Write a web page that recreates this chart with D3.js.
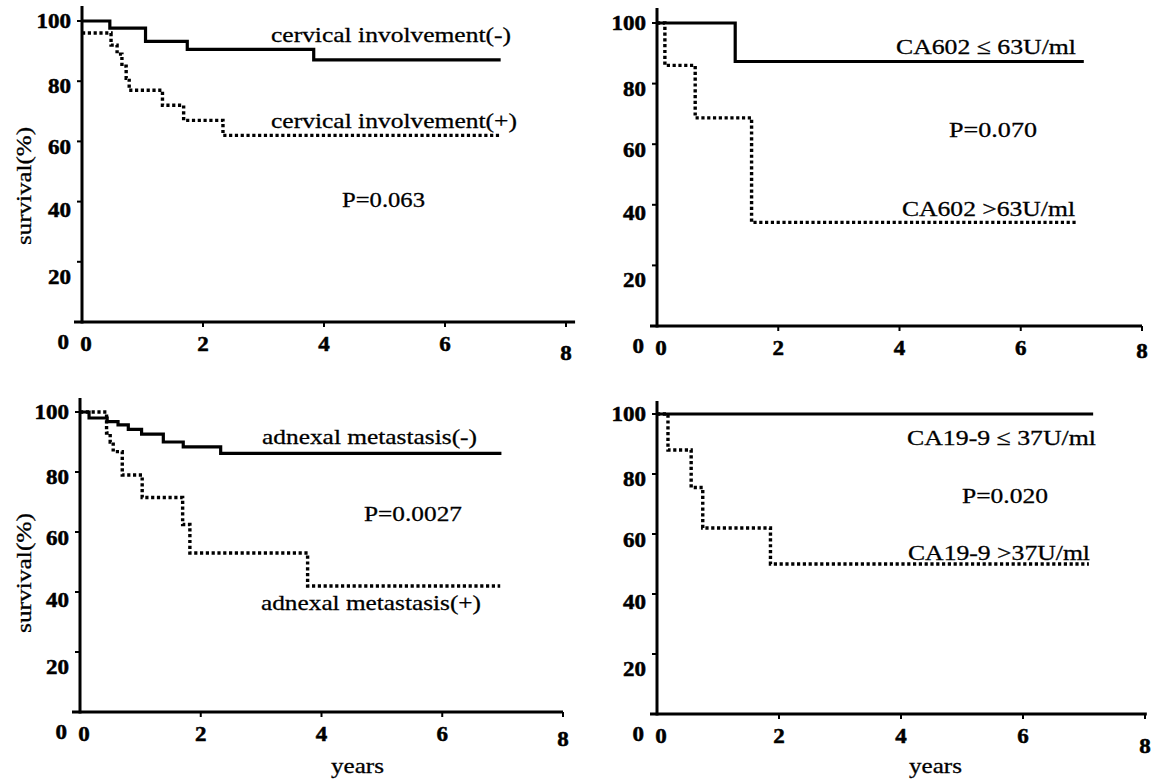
<!DOCTYPE html>
<html><head><meta charset="utf-8">
<script src="https://cdn.jsdelivr.net/npm/d3@7"></script>
<style>body{margin:0;background:#fff}</style>
</head><body>
<svg id="c" width="1153" height="782"></svg>
<script>
// ---------- data ----------
const xTickValues = [0, 2, 4, 6, 8];
const xTickLabels = ["0", "2", "4", "6", "8"];
const yTickValues = [0, 20, 40, 60, 80, 100];
const yTickLabels = ["0", "20", "40", "60", "80", "100"];

// panel A: cervical involvement
const cervNegTime = [0, 0.46, 1.05, 1.74, 3.83];
const cervNegSurv = [100, 97.6, 93.2, 90.6, 87.1];
const cervNegEnd = 6.92;
const cervPosTime = [0, 0.48, 0.58, 0.66, 0.73, 0.78, 1.33, 1.68, 2.33];
const cervPosSurv = [96, 92, 89, 85, 81, 77, 72, 67, 62];
const cervPosEnd = 6.92;
const cervLabels = ["cervical involvement(-)", "cervical involvement(+)", "P=0.063"];

// panel B: CA602
const caLowTime = [0, 1.29];
const caLowSurv = [100, 87.3];
const caLowEnd = 7.04;
const caHighTime = [0, 0.13, 0.63, 1.56];
const caHighSurv = [100, 86, 68.7, 34.2];
const caHighEnd = 6.94;
const caLabels = ["CA602 \u2264 63U/ml", "P=0.070", "CA602 >63U/ml"];

// panel C: adnexal metastasis
const adnNegTime = [0, 0.15, 0.45, 0.63, 0.8, 1.02, 1.38, 1.71, 2.33];
const adnNegSurv = [100, 98, 96.8, 95.7, 94.2, 92.6, 90, 88.4, 86.2];
const adnNegEnd = 6.98;
const adnPosTime = [0, 0.44, 0.5, 0.55, 0.7, 1.03, 1.7, 1.82, 3.77];
const adnPosSurv = [100, 93, 90, 86.8, 79, 71.5, 62.5, 53, 42];
const adnPosEnd = 6.96;
const adnLabels = ["adnexal metastasis(-)", "P=0.0027", "adnexal metastasis(+)"];

// panel D: CA19-9
const c199LowTime = [0];
const c199LowSurv = [100];
const c199LowEnd = 7.15;
const c199HighTime = [0, 0.18, 0.56, 0.75, 1.86];
const c199HighSurv = [100, 88, 75.5, 62, 50];
const c199HighEnd = 7.08;
const c199Labels = ["CA19-9 \u2264 37U/ml", "P=0.020", "CA19-9 >37U/ml"];

const yAxisTitle = "survival(%)";
const xAxisTitle = "years";

// ---------- layout ----------
const yLabelShift = [20, 15, 8, 6, 5, 0];
const panels = [
  {x0: 82, x8: 566, y0: 322, y100: 21, top: 6, axL: 74, axR: 8.15, x8dy: 9,
   series: [[cervNegTime, cervNegSurv, cervNegEnd, false], [cervPosTime, cervPosSurv, cervPosEnd, true]],
   labels: cervLabels, lpos: [[271, 42, 240], [271, 128, 246], [342, 207, 83]],
   ytitle: [31, 186, 118], xtitle: null},
  {x0: 657, x8: 1142, y0: 326, y100: 23, top: 8, axL: 650, axR: 8.0, x8dy: 3,
   series: [[caLowTime, caLowSurv, caLowEnd, false], [caHighTime, caHighSurv, caHighEnd, true]],
   labels: caLabels, lpos: [[896, 54, 180], [949, 137, 88], [902, 216, 173]],
   ytitle: null, xtitle: null},
  {x0: 80, x8: 563, y0: 712, y100: 412, top: 398, axL: 72, axR: 8.0, x8dy: 5,
   series: [[adnNegTime, adnNegSurv, adnNegEnd, false], [adnPosTime, adnPosSurv, adnPosEnd, true]],
   labels: adnLabels, lpos: [[262, 444, 215], [364, 521, 98], [261, 610, 220]],
   ytitle: [31, 573, 120], xtitle: [331, 773, 53]},
  {x0: 657, x8: 1145, y0: 714, y100: 414, top: 401, axL: 650, axR: 8.03, x8dy: 10,
   series: [[c199LowTime, c199LowSurv, c199LowEnd, false], [c199HighTime, c199HighSurv, c199HighEnd, true]],
   labels: c199Labels, lpos: [[907, 445, 189], [962, 503, 86], [908, 560, 182]],
   ytitle: null, xtitle: [909, 773, 53]}
];

const FONT = "Liberation Serif, Times New Roman, serif";
const svg = d3.select("#c");

panels.forEach(p => {
  const x = d3.scaleLinear().domain([0, 8]).range([p.x0, p.x8]);
  const y = d3.scaleLinear().domain([0, 100]).range([p.y0, p.y100]);
  const g = svg.append("g");

  // axes lines
  g.append("line").attr("x1", x(0)).attr("x2", x(0)).attr("y1", p.top).attr("y2", y(0) + 1.5)
    .attr("stroke", "#000").attr("stroke-width", 3);
  g.append("line").attr("x1", p.axL).attr("x2", x(p.axR)).attr("y1", y(0)).attr("y2", y(0))
    .attr("stroke", "#000").attr("stroke-width", 3);

  // y ticks
  yTickValues.forEach((v, i) => {
    if (v > 0) g.append("line").attr("x1", x(0) - 5).attr("x2", x(0)).attr("y1", y(v)).attr("y2", y(v))
      .attr("stroke", "#000").attr("stroke-width", 2);
    g.append("text").attr("x", v === 0 ? x(0) - 13 : x(0) - 11)
      .attr("y", y(v) + yLabelShift[i] + 7)
      .attr("text-anchor", "end").style("font-family", FONT).attr("font-weight", "bold")
      .attr("font-size", 21).attr("stroke", "#000").attr("stroke-width", 0.5)
      .attr("textLength", yTickLabels[i].length * 11.5).attr("lengthAdjust", "spacingAndGlyphs")
      .text(yTickLabels[i]);
  });

  // x ticks
  xTickValues.forEach((v, i) => {
    if (v > 0) g.append("line").attr("x1", x(v)).attr("x2", x(v)).attr("y1", y(0)).attr("y2", y(0) + 5)
      .attr("stroke", "#000").attr("stroke-width", 2);
    const cx = v === 0 ? x(0) + 4 : x(v);
    g.append("text").attr("x", cx - 5.75).attr("y", y(0) + 28.5 + (v === 8 ? p.x8dy : 0))
      .style("font-family", FONT).attr("font-weight", "bold").attr("font-size", 21)
      .attr("stroke", "#000").attr("stroke-width", 0.5)
      .attr("textLength", 11.5).attr("lengthAdjust", "spacingAndGlyphs")
      .text(xTickLabels[i]);
  });

  // survival curves
  const line = d3.line().x(d => x(d[0])).y(d => y(d[1])).curve(d3.curveStepAfter);
  p.series.forEach(([times, surv, end, dotted]) => {
    const pts = times.map((t, i) => [t, surv[i]]);
    pts.push([end, surv[surv.length - 1]]);
    g.append("path").attr("d", line(pts)).attr("fill", "none").attr("stroke", "#000")
      .attr("stroke-width", dotted ? 3.4 : 3.2)
      .attr("stroke-dasharray", dotted ? "3.2,2.6" : null);
  });

  // annotations
  p.labels.forEach((txt, i) => {
    const [lx, ly, lw] = p.lpos[i];
    g.append("text").attr("x", lx).attr("y", ly).style("font-family", FONT).attr("font-size", 22)
      .attr("stroke", "#000").attr("stroke-width", 0.3)
      .attr("textLength", lw).attr("lengthAdjust", "spacingAndGlyphs").text(txt);
  });

  if (p.ytitle) {
    const [tx, ty, tl] = p.ytitle;
    g.append("text").attr("transform", `translate(${tx},${ty}) rotate(-90)`)
      .attr("text-anchor", "middle").style("font-family", FONT).attr("font-size", 22)
      .attr("stroke", "#000").attr("stroke-width", 0.3)
      .attr("textLength", tl).attr("lengthAdjust", "spacingAndGlyphs").text(yAxisTitle);
  }
  if (p.xtitle) {
    const [tx, ty, tl] = p.xtitle;
    g.append("text").attr("x", tx).attr("y", ty).style("font-family", FONT).attr("font-size", 22)
      .attr("stroke", "#000").attr("stroke-width", 0.3)
      .attr("textLength", tl).attr("lengthAdjust", "spacingAndGlyphs").text(xAxisTitle);
  }
});
</script>
</body></html>
